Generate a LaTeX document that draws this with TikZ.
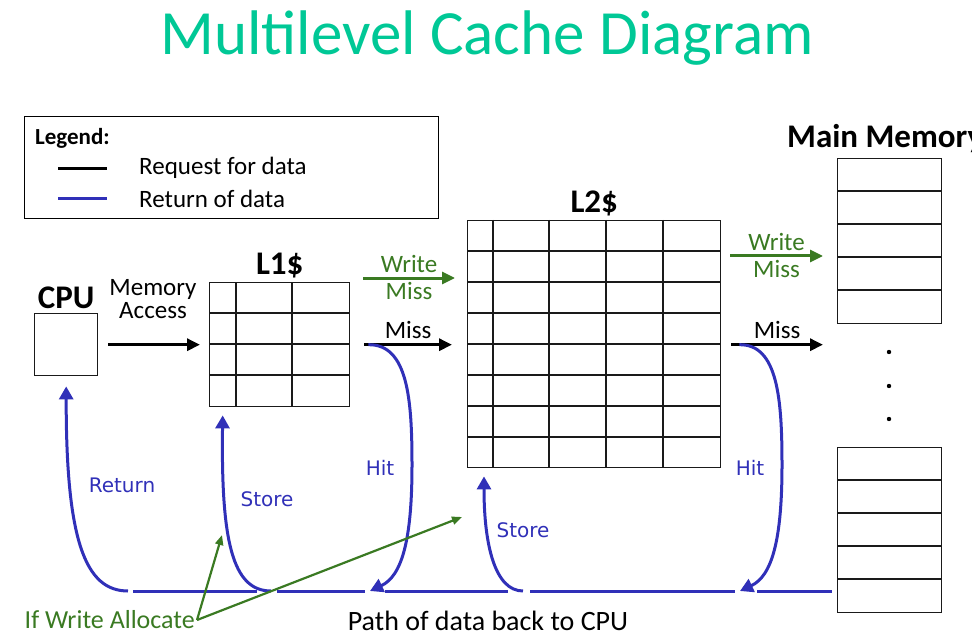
\documentclass[tikz,border=0pt]{standalone}
\usepackage{fontspec}
\setmainfont{Carlito}
\newfontfamily\hitfont{DejaVu Sans}
\usetikzlibrary{positioning, arrows.meta, calc}
\definecolor{clrtitle}{HTML}{00C896}
\definecolor{clrreturn}{HTML}{3030B8}
\definecolor{clrwrite}{HTML}{3A7A22}
\definecolor{clrborder}{HTML}{1A1A1A}

\begin{document}
\begin{tikzpicture}[
    x=1pt, y=-1pt,
    every node/.style={font=\fontsize{25}{27}\selectfont},
    cache/.style={draw=clrborder, line width=1.4pt, inner sep=0, anchor=north west},
    gridline/.style={draw=clrborder, line width=1.4pt},
    heading/.style={font=\fontsize{33}{35}\selectfont\bfseries, inner sep=1pt},
    request/.style={-{Triangle[length=13pt, width=12pt]}, line width=3pt, color=black},
    writemiss/.style={-{Triangle[length=13pt, width=12pt]}, line width=3pt, color=clrwrite},
    allocate/.style={-{Triangle[length=10pt, width=8pt]}, line width=2.2pt, color=clrwrite},
    back/.style={-{Triangle[length=13pt, width=14pt]}, line width=3pt, color=clrreturn},
    backline/.style={line width=3pt, color=clrreturn},
    hitlabel/.style={font=\hitfont\fontsize{20}{22}\selectfont, text=clrreturn},
]
\useasboundingbox (0,0) rectangle (972,639);
\node[font=\fontsize{63}{65}\selectfont, text=clrtitle] (n_title) at (487,38) {Multilevel Cache Diagram};
\node[draw=black, line width=1pt, anchor=north west, minimum width=414pt, minimum height=102pt, inner sep=0] (n_legend) at (24,116) {};
\node[anchor=west, font=\fontsize{23}{25}\selectfont\bfseries, inner sep=0] (n_legend_title) at (35,138) {Legend:};
\node[anchor=west, inner sep=0] (n_legend_req) at (139,168) {Request for data};
\node[anchor=west, inner sep=0] (n_legend_ret) at (139,199) {Return of data};
\draw[line width=3pt, black] (58,169) -- (107,169);
\draw[line width=3pt, clrreturn] (58,199) -- (107,199);
\node[cache, minimum width=63pt, minimum height=62pt] (n_cpu) at (34,313) {};
\node[cache, minimum width=140pt, minimum height=124pt] (n_l1) at (209,282) {};
\node[cache, minimum width=253pt, minimum height=247pt] (n_l2) at (467,220) {};
\node[cache, minimum width=104pt, minimum height=165pt] (n_mem_top) at (837,158) {};
\node[cache, minimum width=104pt, minimum height=165pt] (n_mem_bot) at (837,447) {};
\foreach \dx in {27,83} \draw[gridline] ([xshift=\dx pt]n_l1.north west) -- ([xshift=\dx pt]n_l1.south west);
\foreach \dy in {31,62,93} \draw[gridline] ([yshift=-\dy pt]n_l1.north west) -- ([yshift=-\dy pt]n_l1.north east);
\foreach \dx in {26,82,139,196} \draw[gridline] ([xshift=\dx pt]n_l2.north west) -- ([xshift=\dx pt]n_l2.south west);
\foreach \dy in {31,62,93,124,155,186,217} \draw[gridline] ([yshift=-\dy pt]n_l2.north west) -- ([yshift=-\dy pt]n_l2.north east);
\foreach \dy in {33,66,99,132} {
  \draw[gridline] ([yshift=-\dy pt]n_mem_top.north west) -- ([yshift=-\dy pt]n_mem_top.north east);
  \draw[gridline] ([yshift=-\dy pt]n_mem_bot.north west) -- ([yshift=-\dy pt]n_mem_bot.north east);
}
\foreach \y in {352,386,419} \fill (889,\y) circle (2.2pt);
\node[heading, above=3pt of n_cpu] (n_cpu_label) {CPU};
\node[heading, above=3pt of n_l1] (n_l1_label) {L1\$};
\node[heading, above=3pt of n_l2] (n_l2_label) {L2\$};
\node[heading, anchor=west] (n_mem_label) at (786,139) {Main Memory};
\node[align=center, font=\fontsize{25}{23}\selectfont] (n_access) at (153,299) {Memory\\Access};
\draw[request] ([xshift=10pt]n_cpu.east) -- ([xshift=-9pt]n_l1.west);
\coordinate (c_miss1) at ([xshift=14pt]n_l1.east);
\coordinate (c_miss2) at ([xshift=10pt]n_l2.east |- n_l1.east);
\draw[request] (c_miss1) -- node[above=5pt, inner sep=0] (n_miss1) {Miss} ([xshift=-15pt]n_l2.west |- n_l1.east);
\draw[request] (c_miss2) -- node[above=5pt, inner sep=0] (n_miss2) {Miss} ([xshift=-14pt]n_mem_top.west |- n_l1.east);
\draw[writemiss] (363,278) -- node[above=4pt, inner sep=0, text=clrwrite] (n_wm1a) {Write} node[below=3pt, inner sep=0, text=clrwrite] (n_wm1b) {Miss} (455,278);
\draw[writemiss] (730,256) -- node[above=4pt, inner sep=0, text=clrwrite] (n_wm2a) {Write} node[below=3pt, inner sep=0, text=clrwrite] (n_wm2b) {Miss} (823,256);
\coordinate (c_b0) at (128,591);
\coordinate (c_b1) at (271,591);
\coordinate (c_b2) at (370,591);
\coordinate (c_b3) at (523,591);
\coordinate (c_b4) at (740,591);
\draw[backline] (133,591) -- (257,591);
\draw[backline] (277,591) -- (365,591);
\draw[backline] (385,591) -- (508,591);
\draw[backline] (530,591) -- (735,591);
\draw[backline] (757,591) -- ([xshift=-5pt]n_mem_bot.west |- c_b0);
\draw[back] (c_b0) .. controls (85,591) and (66,540) .. ([yshift=-10pt]n_cpu.south);
\draw[back] (c_b1) .. controls (232,591) and (221,540) .. ([xshift=-57pt, yshift=-8pt]n_l1.south);
\draw[back] (c_b3) .. controls (495,591) and (484,545) .. ([xshift=17pt, yshift=-8pt]n_l2.south west);
\draw[back] ([xshift=4pt]c_miss1) .. controls (408,344) and (412,400) .. (412,465) .. controls (412,540) and (402,576) .. (c_b2);
\draw[back] ([xshift=8pt]c_miss2) .. controls (778,344) and (782,400) .. (782,465) .. controls (782,540) and (772,576) .. (c_b4);
\node[hitlabel] (n_return) at (122,485) {Return};
\node[hitlabel] (n_store1) at (267,499) {Store};
\node[hitlabel] (n_hit1) at (380,468) {Hit};
\node[hitlabel] (n_store2) at (523,530) {Store};
\node[hitlabel] (n_hit2) at (750,468) {Hit};
\node[text=clrwrite, anchor=east, inner sep=2pt, font=\fontsize{26}{28}\selectfont] (n_allocate) at (197,620) {If Write Allocate};
\draw[allocate] (n_allocate.east) -- (222,535);
\draw[allocate] (n_allocate.east) -- (462,517);
\node[font=\fontsize{28}{30}\selectfont] (n_path) at (488,621) {Path of data back to CPU};
\end{tikzpicture}
\end{document}
